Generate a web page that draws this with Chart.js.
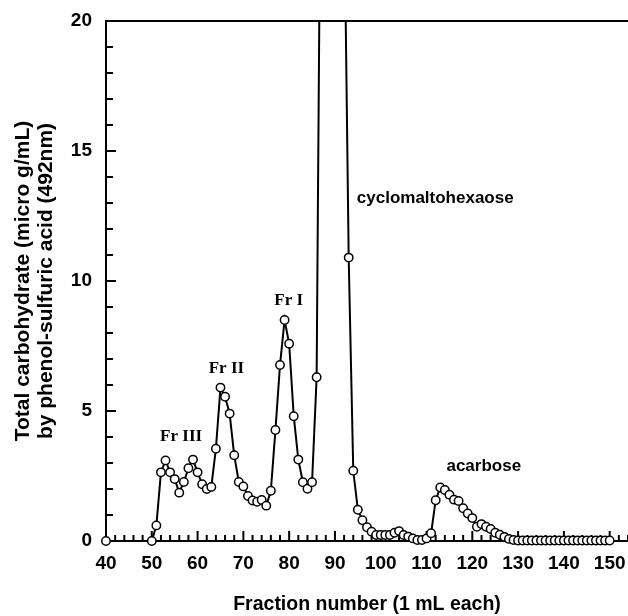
<!DOCTYPE html>
<html>
<head>
<meta charset="utf-8">
<script src="https://cdn.jsdelivr.net/npm/chart.js@4/dist/chart.umd.min.js"></script>
<style>
  html, body { margin: 0; padding: 0; background: #fff; }
  #wrap { width: 628px; height: 616px; }
</style>
</head>
<body>
<div id="wrap"><canvas id="chart" width="628" height="616"></canvas></div>
<script>
// Fraction numbers (1 mL each)
const fractions = [40, 50, 51, 52, 53, 54, 55, 56, 57, 58, 59, 60, 61, 62, 63, 64, 65, 66, 67, 68, 69,
    70, 71, 72, 73, 74, 75, 76, 77, 78, 79, 80, 81, 82, 83, 84, 85, 86, 87, 88, 89,
    90, 91, 92, 93, 94, 95, 96, 97, 98, 99, 100, 101, 102, 103, 104, 105, 106, 107, 108, 109,
    110, 111, 112, 113, 114, 115, 116, 117, 118, 119, 120, 121, 122, 123, 124, 125, 126, 127, 128, 129,
    130, 131, 132, 133, 134, 135, 136, 137, 138, 139, 140, 141, 142, 143, 144, 145, 146, 147, 148, 149, 150];

// Total carbohydrate (micro g/mL)
const carbohydrate = [0, 0, 0.6, 2.64, 3.1, 2.64, 2.38, 1.86, 2.27, 2.8, 3.13, 2.64, 2.18, 2.0, 2.08, 3.55, 5.9, 5.55, 4.9, 3.3, 2.27,
    2.1, 1.73, 1.56, 1.51, 1.58, 1.36, 1.93, 4.27, 6.77, 8.5, 7.59, 4.8, 3.13, 2.26, 2.01, 2.26, 6.3, 30, 60, 80,
    75, 50, 25, 10.9, 2.7, 1.2, 0.8, 0.53, 0.36, 0.23, 0.23, 0.23, 0.23, 0.32, 0.38, 0.23, 0.17, 0.1, 0.04, 0.04,
    0.1, 0.3, 1.57, 2.06, 1.96, 1.78, 1.59, 1.54, 1.26, 1.06, 0.88, 0.55, 0.65, 0.55, 0.46, 0.32, 0.24, 0.16, 0.08, 0.04,
    0.02, 0.02, 0.02, 0.02, 0.02, 0.02, 0.02, 0.02, 0.02, 0.02, 0.02, 0.02, 0.02, 0.02, 0.02, 0.02, 0.02, 0.02, 0.02, 0.02, 0.02];

const xTickLabels = [40, 50, 60, 70, 80, 90, 100, 110, 120, 130, 140, 150];
const yTickLabels = [0, 5, 10, 15, 20];

// peak names, placed in data units
const peakLabels = [
    {text: 'Fr III', x: 56.4, y: 4.0, serif: true},
    {text: 'Fr II', x: 66.3, y: 6.64, serif: true},
    {text: 'Fr I', x: 79.9, y: 9.24, serif: true},
    {text: 'cyclomaltohexaose', x: 111.9, y: 13.18, serif: false},
    {text: 'acarbose', x: 122.5, y: 2.86, serif: false}
];

const points = fractions.map((f, i) => ({x: f, y: carbohydrate[i]}));

// inward tick marks, top frame line and peak names
const decorations = {
    id: 'decorations',
    beforeDatasetsDraw(chart) {
        const ctx = chart.ctx;
        const xs = chart.scales.x, ys = chart.scales.y;
        const area = chart.chartArea;
        ctx.save();
        ctx.strokeStyle = '#000';
        ctx.lineWidth = 2;
        ctx.beginPath();
        for (let v = 40; v <= 154; v += 2) {
            const px = xs.getPixelForValue(v);
            const len = v % 10 === 0 ? 10 : 6;
            ctx.moveTo(px, area.bottom);
            ctx.lineTo(px, area.bottom - len);
        }
        for (let v = 0; v <= 20; v += 1) {
            const py = ys.getPixelForValue(v);
            const len = v % 5 === 0 ? 10 : 7;
            ctx.moveTo(area.left, py);
            ctx.lineTo(area.left + len, py);
        }
        ctx.moveTo(area.left, area.top);
        ctx.lineTo(area.right, area.top);
        ctx.stroke();

        ctx.fillStyle = '#000';
        ctx.textAlign = 'center';
        ctx.textBaseline = 'middle';
        peakLabels.forEach(l => {
            ctx.font = l.serif ? 'bold 17px "Liberation Serif", "Times New Roman", serif'
                               : 'bold 17px "Liberation Sans", Arial, sans-serif';
            ctx.fillText(l.text, xs.getPixelForValue(l.x), ys.getPixelForValue(l.y));
        });
        ctx.restore();
    }
};

const ctx = document.getElementById('chart').getContext('2d');
const chart = new Chart(ctx, {
    type: 'scatter',
    data: {
        datasets: [{
            data: points,
            showLine: true,
            borderColor: '#000',
            borderWidth: 2,
            pointRadius: 4.2,
            pointBorderWidth: 1.5,
            pointBackgroundColor: '#fff',
            pointBorderColor: '#000',
            clip: {left: 10, right: 10, top: 0, bottom: 10}
        }]
    },
    options: {
        responsive: false,
        animation: false,
        events: [],
        layout: {autoPadding: false, padding: {top: 21, right: 0, left: 0, bottom: 0}},
        plugins: {
            legend: {display: false},
            tooltip: {enabled: false}
        },
        scales: {
            x: {
                type: 'linear',
                min: 40,
                max: 154,
                afterBuildTicks: s => { s.ticks = xTickLabels.map(v => ({value: v})); },
                afterFit: s => { s.height = 75; s.paddingLeft = 0; s.paddingRight = 0; },
                grid: {display: false, drawTicks: false},
                border: {display: true, color: '#000', width: 2},
                ticks: {
                    color: '#000',
                    padding: 11,
                    maxRotation: 0,
                    autoSkip: false,
                    font: {family: '"Liberation Sans", Arial, sans-serif', size: 19, weight: 'bold'}
                },
                title: {
                    display: true,
                    text: 'Fraction number (1 mL each)',
                    color: '#000',
                    padding: {top: 0, bottom: 0},
                    font: {family: '"Liberation Sans", Arial, sans-serif', size: 19.5, weight: 'bold', lineHeight: 1.2}
                }
            },
            y: {
                type: 'linear',
                min: 0,
                max: 20,
                afterBuildTicks: s => { s.ticks = yTickLabels.map(v => ({value: v})); },
                afterFit: s => { s.width = 106; s.paddingTop = 0; s.paddingBottom = 0; },
                grid: {display: false, drawTicks: false},
                border: {display: true, color: '#000', width: 2},
                ticks: {
                    color: '#000',
                    padding: 14,
                    font: {family: '"Liberation Sans", Arial, sans-serif', size: 19, weight: 'bold'}
                },
                title: {
                    display: true,
                    text: ['Total carbohydrate (micro g/mL)', 'by phenol-sulfuric acid (492nm)'],
                    color: '#000',
                    padding: {top: 11.5, bottom: 0},
                    font: {family: '"Liberation Sans", Arial, sans-serif', size: 21, weight: 'bold', lineHeight: 1.1}
                }
            }
        }
    },
    plugins: [decorations]
});
</script>
</body>
</html>
